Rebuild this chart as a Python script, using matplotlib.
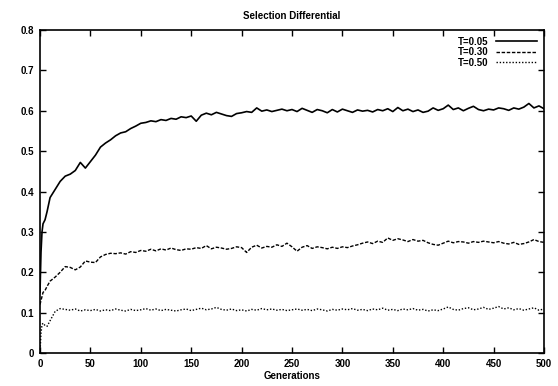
import matplotlib
matplotlib.use("Agg")
import matplotlib.pyplot as plt

plt.rcParams['font.family'] = ['Liberation Sans', 'DejaVu Sans']

generations = [0, 1, 2, 3, 5, 7] + list(range(10, 501, 5))

t005 = [0.15, 0.25, 0.30, 0.32, 0.33, 0.35,
        0.385, 0.405, 0.425, 0.438, 0.443, 0.452, 0.472, 0.458, 0.474, 0.490,
        0.510, 0.520, 0.528, 0.538, 0.545, 0.548, 0.556, 0.562, 0.569, 0.571,
        0.575, 0.573, 0.578, 0.576, 0.581, 0.579, 0.585, 0.583, 0.587, 0.574,
        0.589, 0.594, 0.590, 0.596, 0.592, 0.588, 0.586, 0.593, 0.595, 0.598,
        0.596, 0.607, 0.599, 0.602, 0.598, 0.601, 0.604, 0.600, 0.603, 0.598,
        0.606, 0.601, 0.596, 0.603, 0.600, 0.595, 0.603, 0.597, 0.604, 0.600,
        0.596, 0.602, 0.599, 0.601, 0.597, 0.603, 0.600, 0.605, 0.598, 0.608,
        0.600, 0.604, 0.598, 0.602, 0.596, 0.599, 0.607, 0.601, 0.605, 0.614,
        0.603, 0.607, 0.600, 0.606, 0.611, 0.603, 0.600, 0.604, 0.602, 0.607,
        0.605, 0.601, 0.607, 0.604, 0.609, 0.618, 0.607, 0.612, 0.605]

t030 = [0.12, 0.13, 0.14, 0.15, 0.155, 0.165,
        0.178, 0.188, 0.200, 0.214, 0.212, 0.206, 0.213, 0.228, 0.225, 0.224,
        0.238, 0.244, 0.247, 0.246, 0.248, 0.245, 0.251, 0.249, 0.254, 0.252,
        0.257, 0.253, 0.258, 0.255, 0.260, 0.256, 0.254, 0.258, 0.257, 0.261,
        0.259, 0.266, 0.258, 0.262, 0.260, 0.257, 0.259, 0.263, 0.261, 0.249,
        0.262, 0.267, 0.260, 0.264, 0.262, 0.268, 0.264, 0.272, 0.263, 0.252,
        0.262, 0.266, 0.259, 0.263, 0.261, 0.258, 0.262, 0.259, 0.263, 0.261,
        0.265, 0.268, 0.272, 0.275, 0.271, 0.277, 0.274, 0.285, 0.279, 0.283,
        0.280, 0.276, 0.281, 0.277, 0.279, 0.273, 0.269, 0.267, 0.272, 0.277,
        0.273, 0.276, 0.275, 0.272, 0.276, 0.274, 0.277, 0.275, 0.273, 0.276,
        0.272, 0.270, 0.274, 0.269, 0.271, 0.275, 0.281, 0.276, 0.274]

t050 = [0.0, 0.05, 0.07, 0.074, 0.068, 0.066,
        0.080, 0.103, 0.110, 0.108, 0.106, 0.109, 0.104, 0.107, 0.105, 0.108,
        0.104, 0.107, 0.105, 0.109, 0.106, 0.104, 0.108, 0.105, 0.107, 0.110,
        0.106, 0.109, 0.105, 0.108, 0.106, 0.104, 0.107, 0.109, 0.105, 0.108,
        0.111, 0.107, 0.109, 0.113, 0.108, 0.106, 0.109, 0.105, 0.107, 0.104,
        0.108, 0.106, 0.110, 0.107, 0.109, 0.106, 0.108, 0.105, 0.107, 0.109,
        0.106, 0.108, 0.105, 0.109, 0.107, 0.104, 0.108, 0.106, 0.109, 0.107,
        0.110, 0.106, 0.108, 0.105, 0.109, 0.107, 0.111, 0.106, 0.108, 0.105,
        0.109, 0.107, 0.110, 0.106, 0.108, 0.104, 0.107, 0.105, 0.109, 0.114,
        0.108, 0.106, 0.110, 0.112, 0.107, 0.109, 0.113, 0.108, 0.111, 0.115,
        0.109, 0.112, 0.107, 0.110, 0.106, 0.109, 0.112, 0.106, 0.109]

labels = ["T=0.05", "T=0.30", "T=0.50"]
xticks = [0, 50, 100, 150, 200, 250, 300, 350, 400, 450, 500]
yticks = [0, 0.1, 0.2, 0.3, 0.4, 0.5, 0.6, 0.7, 0.8]
ytick_labels = ["0", "0.1", "0.2", "0.3", "0.4", "0.5", "0.6", "0.7", "0.8"]

fig = plt.figure(figsize=(5.58, 3.86), dpi=100)
ax = fig.add_axes([40/558, 1-353/386, (544-40)/558, (353-30)/386])

ax.plot(generations, t005, color='black', lw=1.2, ls='-', label=labels[0])
ax.plot(generations, t030, color='black', lw=1.0, ls=(0, (2.5, 1.2)), label=labels[1])
ax.plot(generations, t050, color='black', lw=1.0, ls=(0, (1, 1.3)), label=labels[2])

ax.set_xlim(0, 500)
ax.set_ylim(0, 0.8)
ax.set_xticks(xticks)
ax.set_yticks(yticks)
ax.set_yticklabels(ytick_labels)
ax.tick_params(direction='in', top=True, right=True, length=4, width=1,
               labelsize=7, pad=4)
for lab in ax.get_xticklabels() + ax.get_yticklabels():
    lab.set_fontweight('bold')
for s in ax.spines.values():
    s.set_linewidth(1.2)

ax.set_title("Selection Differential", fontsize=7, fontweight='bold', pad=8)
ax.set_xlabel("Generations", fontsize=7, fontweight='bold', labelpad=2)

leg = ax.legend(loc='upper right', frameon=False, markerfirst=False,
                fontsize=7, handlelength=4.2, handletextpad=0.8,
                labelspacing=0.05, borderaxespad=0.3)
for t in leg.get_texts():
    t.set_fontweight('bold')

fig.savefig("out.png", dpi=100)
